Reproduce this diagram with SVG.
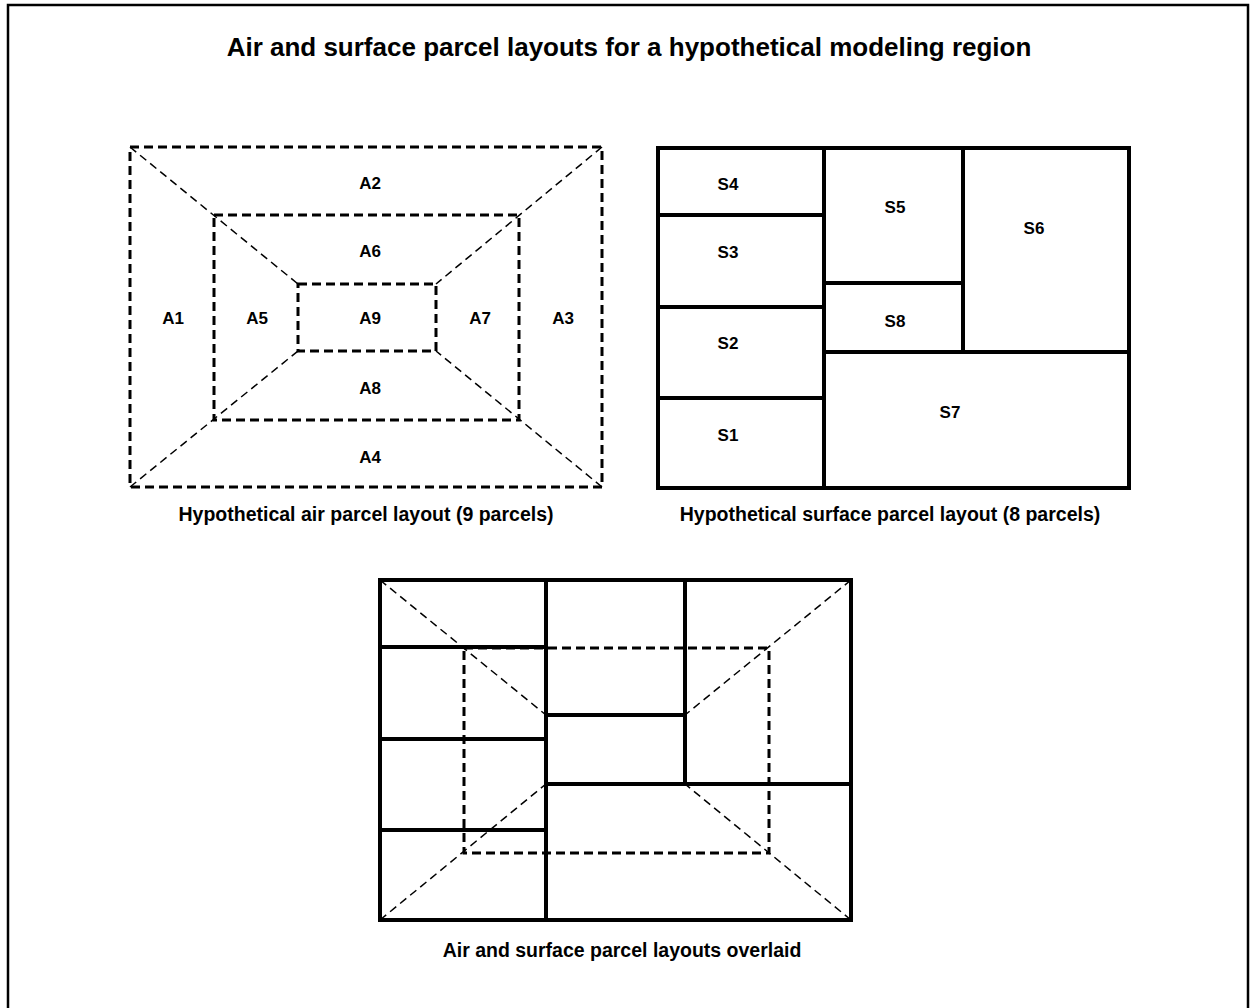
<svg xmlns="http://www.w3.org/2000/svg" width="1250" height="1008" viewBox="0 0 1250 1008">
<style>
text{font-family:"Liberation Sans",Arial,sans-serif;font-weight:bold;fill:#000;text-anchor:middle}
.title{font-size:26px}
.cap{font-size:19.5px}
.lbl{font-size:17px}
.airbox{fill:none;stroke:#000;stroke-width:3;stroke-dasharray:9 5}
.diag{fill:none;stroke:#000;stroke-width:1.5;stroke-dasharray:8 5}
.surf{fill:none;stroke:#000;stroke-width:4;stroke-linecap:square}
.frame{fill:none;stroke:#000;stroke-width:2.5}
</style>
<defs>
<g id="surfShapes">
<rect class="surf" x="658" y="148" width="471" height="340"/>
<path class="surf" d="M824 148V488M963 148V352M824 352H1129M824 283H963M658 215H824M658 307H824M658 398H824"/>
</g>
</defs>
<rect width="1250" height="1008" fill="#fff"/>
<rect class="frame" x="8" y="5" width="1240" height="1012"/>
<text class="title" x="629" y="56">Air and surface parcel layouts for a hypothetical modeling region</text>

<g id="air-layout">
<rect class="airbox" x="130" y="147" width="472" height="340"/>
<rect class="airbox" x="214" y="215" width="305" height="205"/>
<rect class="airbox" x="298" y="284" width="138" height="67"/>
<path class="diag" d="M130 147L298 284M602 147L436 284M130 487L298 351M602 487L436 351"/>
<g id="A1"><text class="lbl" x="173" y="324">A1</text></g>
<g id="A2"><text class="lbl" x="370" y="189">A2</text></g>
<g id="A3"><text class="lbl" x="563" y="324">A3</text></g>
<g id="A4"><text class="lbl" x="370" y="463">A4</text></g>
<g id="A5"><text class="lbl" x="257" y="324">A5</text></g>
<g id="A6"><text class="lbl" x="370" y="257">A6</text></g>
<g id="A7"><text class="lbl" x="480" y="324">A7</text></g>
<g id="A8"><text class="lbl" x="370" y="394">A8</text></g>
<g id="A9"><text class="lbl" x="370" y="324">A9</text></g>
<text class="cap" x="366" y="521">Hypothetical air parcel layout (9 parcels)</text>
</g>

<g id="surface-layout">
<use href="#surfShapes"/>
<g id="S1"><text class="lbl" x="728" y="441">S1</text></g>
<g id="S2"><text class="lbl" x="728" y="349">S2</text></g>
<g id="S3"><text class="lbl" x="728" y="258">S3</text></g>
<g id="S4"><text class="lbl" x="728" y="190">S4</text></g>
<g id="S5"><text class="lbl" x="895" y="213">S5</text></g>
<g id="S6"><text class="lbl" x="1034" y="234">S6</text></g>
<g id="S7"><text class="lbl" x="950" y="418">S7</text></g>
<g id="S8"><text class="lbl" x="895" y="327">S8</text></g>
<text class="cap" x="890" y="521">Hypothetical surface parcel layout (8 parcels)</text>
</g>

<g id="overlay">
<rect class="airbox" x="464" y="648" width="305" height="205"/>
<path class="diag" d="M380 580L546 715M851 580L685 715M380 920L546 784M851 920L685 784"/>
<use href="#surfShapes" transform="translate(-278 432)"/>
<text class="cap" x="622" y="957">Air and surface parcel layouts overlaid</text>
</g>
</svg>
